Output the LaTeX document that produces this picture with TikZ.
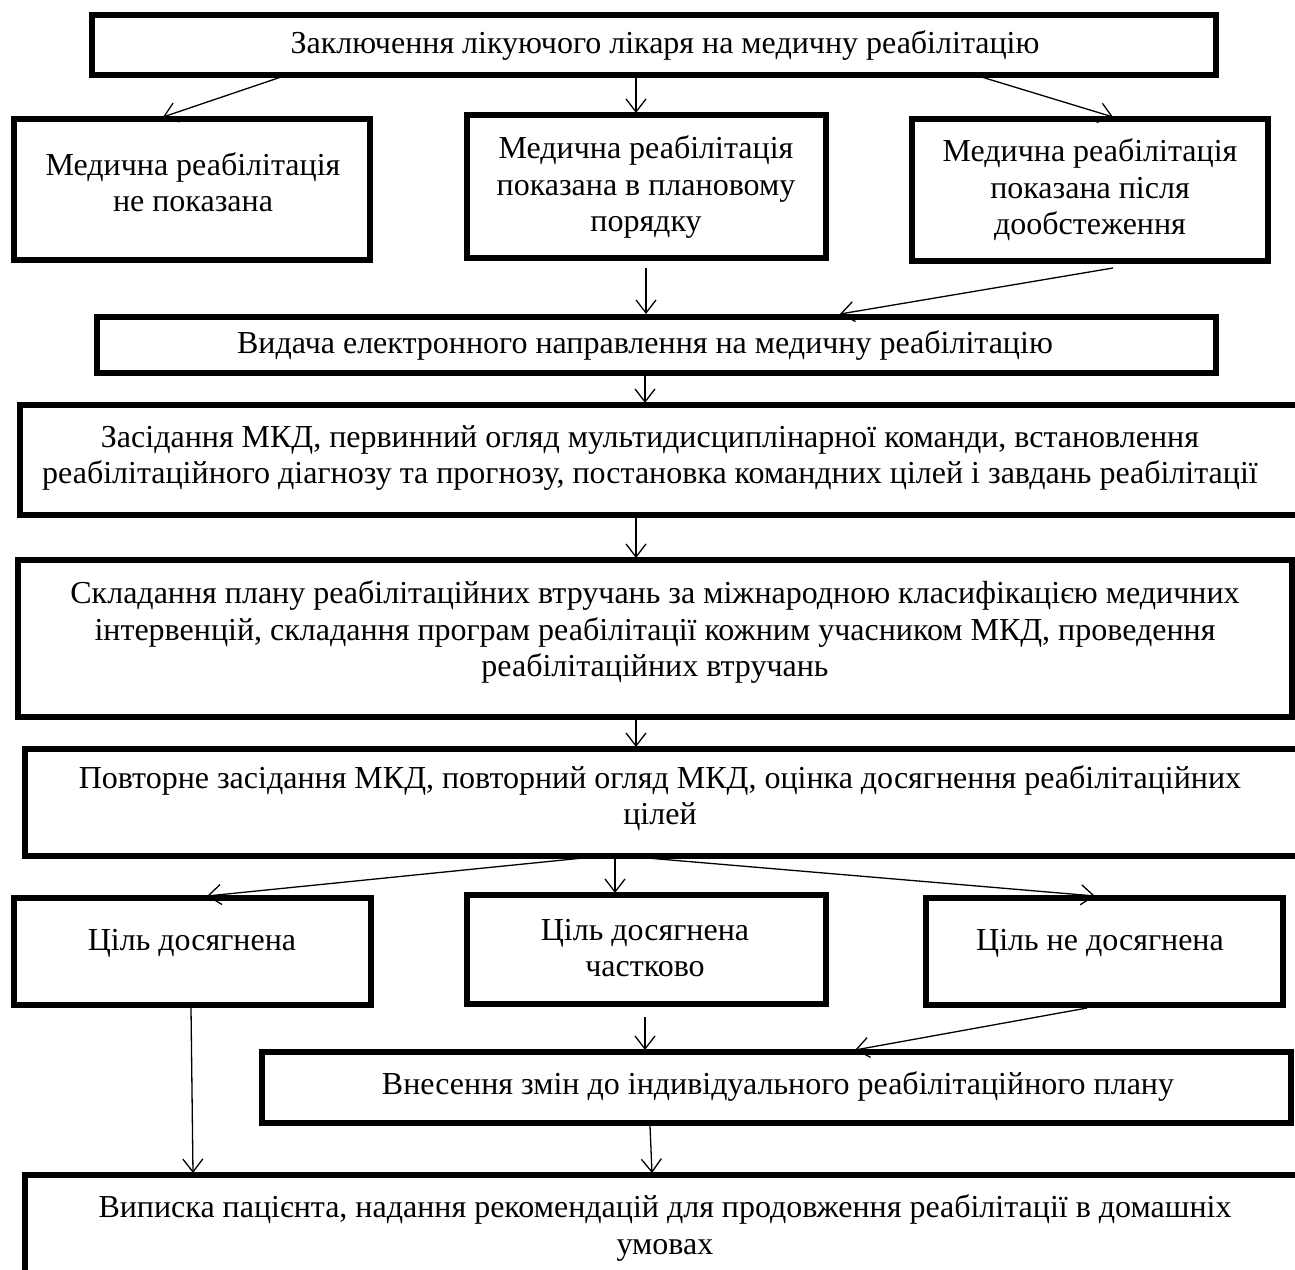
\documentclass[tikz,border=0pt]{standalone}
\usepackage{fontspec}
\setmainfont{Liberation Serif}
\usetikzlibrary{arrows.meta,calc}
\newcommand{\mybox}[5]{\node[box, anchor=north west, minimum width={(#4-#2)*0.5pt}, minimum height={(#5-#3)*0.5pt}] (#1) at (#2,#3) {};}
\begin{document}
\begin{tikzpicture}[x=0.5pt,y=-0.5pt,
  box/.style={draw, line width=2.8pt, inner sep=0pt, outer sep=0pt},
  txt/.style={align=center, font=\fontsize{16}{18.2}\selectfont, inner sep=0pt},
  arr/.style={-{Straight Barb[length=6.5pt,width=10pt]}, line width=0.65pt}]
\useasboundingbox (0,0) rectangle (1295,1269);
\clip (0,0) rectangle (1295,1269);
% boxes
\mybox{top}{92}{15}{1216}{75}
\mybox{bA}{14}{119}{370}{260}
\mybox{bB}{467}{115}{826}{258}
\mybox{bC}{912}{119}{1268}{261}
\mybox{vyd}{97}{317}{1216}{373}
\mybox{mkd}{20}{405}{1310}{515}
\mybox{skl}{18}{560}{1292}{717}
\mybox{pov}{25}{749}{1310}{856}
\mybox{cA}{14}{898}{371}{1005}
\mybox{cB}{467}{895}{826}{1004}
\mybox{cC}{926}{898}{1283}{1005}
\mybox{vn}{262}{1052}{1291}{1123}
\mybox{vyp}{25}{1175}{1310}{1300}
% texts
\node[txt] (t-top) at (665,45) {Заключення лікуючого лікаря на медичну реабілітацію};
\node[txt] (t-bA) at (193,182) {Медична реабілітація\\не показана};
\node[txt] (t-bB) at (646,187) {Медична реабілітація\\показана в плановому\\порядку};
\node[txt] (t-bC) at (1090,190) {Медична реабілітація\\показана після\\дообстеження};
\node[txt] (t-vyd) at (645,345) {Видача електронного направлення на медичну реабілітацію};
\node[txt] (t-mkd) at (650,458) {Засідання МКД, первинний огляд мультидисциплінарної команди, встановлення\\реабілітаційного діагнозу та прогнозу, постановка командних цілей і завдань реабілітації};
\node[txt] (t-skl) at (655,632) {Складання плану реабілітаційних втручань за міжнародною класифікацією медичних\\інтервенцій, складання програм реабілітації кожним учасником МКД, проведення\\реабілітаційних втручань};
\node[txt] (t-pov) at (660,798) {Повторне засідання МКД, повторний огляд МКД, оцінка досягнення реабілітаційних\\цілей};
\node[txt] (t-cA) at (192,943) {Ціль досягнена};
\node[txt] (t-cB) at (645,948) {Ціль досягнена\\частково};
\node[txt] (t-cC) at (1100,943) {Ціль не досягнена};
\node[txt] (t-vn) at (778,1086) {Внесення змін до індивідуального реабілітаційного плану};
\node[txt] (t-vyp) at (665,1228) {Виписка пацієнта, надання рекомендацій для продовження реабілітації в домашніх\\умовах};
% arrows
\draw[arr] ($(top.south west)+(195,0)$) -- ($(bA.north west)+(149,-2)$);
\draw[arr] ($(top.south west)+(544,0)$) -- ($(bB.north west)+(169,-2)$);
\draw[arr] ($(top.south west)+(883,0)$) -- ($(bC.north west)+(201,-2)$);
\draw[arr] ($(bB.south west)+(179,10)$) -- ($(vyd.north west)+(549,-3)$);
\draw[arr] ($(bC.south west)+(201,7)$) -- ($(vyd.north west)+(743,-3)$);
\draw[arr] ($(vyd.south west)+(548,2)$) -- ($(mkd.north west)+(625,-2)$);
\draw[arr] ($(mkd.south west)+(616,2)$) -- ($(skl.north west)+(618,-2)$);
\draw[arr] ($(skl.south west)+(618,2)$) -- ($(pov.north west)+(611,-2)$);
\draw[arr] ($(pov.south west)+(558,2)$) -- ($(cA.north west)+(193,-2)$);
\draw[arr] ($(pov.south west)+(590,2)$) -- ($(cB.north west)+(148,-2)$);
\draw[arr] ($(pov.south west)+(622,2)$) -- ($(cC.north west)+(169,-2)$);
\draw[arr] ($(cB.south west)+(178,13)$) -- ($(vn.north west)+(383,-2)$);
\draw[arr] ($(cC.south west)+(161,3)$) -- ($(vn.north west)+(593,-2)$);
\draw[arr] ($(cA.south west)+(177,3)$) -- ($(vyp.north west)+(168,-2)$);
\draw[arr] ($(vn.south west)+(388,3)$) -- ($(vyp.north west)+(627,-2)$);
\end{tikzpicture}
\end{document}
